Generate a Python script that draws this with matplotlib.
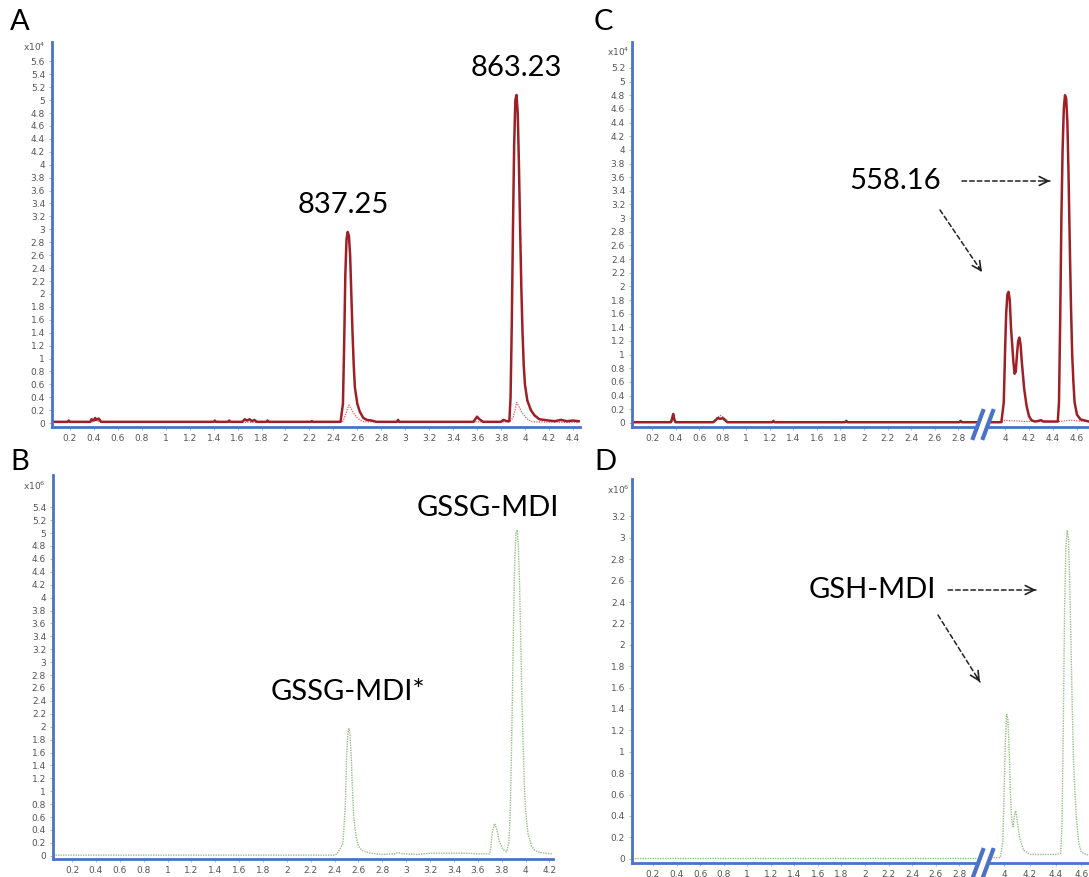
import numpy as np
import matplotlib
matplotlib.use("Agg")
import matplotlib.pyplot as plt
from matplotlib.patches import FancyArrowPatch
from matplotlib.transforms import IdentityTransform

W, H = 1089, 877

# traces: (retention time, intensity)
# panel A, x10^4
a_main = [(0.05, 0.02), (0.18, 0.02), (0.19, 0.04), (0.20, 0.02), (0.37, 0.02), (0.38, 0.06),
          (0.40, 0.04), (0.41, 0.08), (0.42, 0.05), (0.44, 0.07), (0.46, 0.02), (1.40, 0.02),
          (1.41, 0.04), (1.42, 0.02), (1.52, 0.02), (1.53, 0.04), (1.54, 0.02), (1.64, 0.02),
          (1.66, 0.06), (1.68, 0.04), (1.70, 0.06), (1.72, 0.03), (1.74, 0.05), (1.76, 0.02),
          (1.84, 0.02), (1.85, 0.04), (1.86, 0.02), (2.21, 0.02), (2.22, 0.03), (2.23, 0.02),
          (2.46, 0.02), (2.48, 0.3), (2.49, 1.2), (2.50, 2.3), (2.51, 2.85), (2.52, 2.96),
          (2.53, 2.9), (2.54, 2.6), (2.55, 2.0), (2.56, 1.4), (2.57, 0.9), (2.58, 0.55),
          (2.60, 0.3), (2.62, 0.18), (2.65, 0.08), (2.68, 0.05), (2.72, 0.04), (2.76, 0.02),
          (2.93, 0.02), (2.94, 0.05), (2.95, 0.02), (3.57, 0.02), (3.60, 0.1), (3.62, 0.06),
          (3.65, 0.02), (3.80, 0.02), (3.82, 0.05), (3.85, 0.03), (3.87, 0.03), (3.88, 0.4),
          (3.89, 1.5), (3.90, 3.0), (3.91, 4.3), (3.92, 5.0), (3.93, 5.08), (3.94, 4.8),
          (3.95, 4.0), (3.96, 3.0), (3.97, 2.1), (3.98, 1.4), (3.99, 0.9), (4.00, 0.6),
          (4.02, 0.35), (4.05, 0.2), (4.08, 0.12), (4.12, 0.06), (4.20, 0.04), (4.25, 0.03),
          (4.30, 0.05), (4.35, 0.03), (4.40, 0.04), (4.45, 0.03)]
a_minor = [(0.05, 0.01), (0.38, 0.01), (0.40, 0.04), (0.42, 0.06), (0.44, 0.02), (2.45, 0.01),
           (2.48, 0.03), (2.50, 0.12), (2.52, 0.24), (2.53, 0.28), (2.55, 0.22), (2.57, 0.15),
           (2.60, 0.08), (2.63, 0.04), (2.66, 0.02), (3.87, 0.02), (3.90, 0.08), (3.92, 0.22),
           (3.93, 0.32), (3.95, 0.26), (3.97, 0.18), (4.00, 0.1), (4.03, 0.05), (4.06, 0.02),
           (4.45, 0.01)]

# panel B, x10^6
b_trace = [(0.04, 0.01), (2.40, 0.01), (2.42, 0.03), (2.45, 0.12), (2.47, 0.2), (2.49, 0.8),
           (2.50, 1.5), (2.51, 1.9), (2.52, 1.97), (2.53, 1.85), (2.54, 1.5), (2.55, 1.0),
           (2.56, 0.6), (2.58, 0.3), (2.60, 0.15), (2.63, 0.08), (2.70, 0.04), (2.80, 0.02),
           (2.90, 0.03), (2.93, 0.05), (2.97, 0.03), (3.10, 0.02), (3.20, 0.04), (3.50, 0.04),
           (3.60, 0.03), (3.70, 0.03), (3.71, 0.15), (3.72, 0.35), (3.74, 0.5), (3.76, 0.4),
           (3.78, 0.22), (3.81, 0.1), (3.84, 0.06), (3.86, 0.2), (3.87, 0.6), (3.88, 1.4),
           (3.89, 2.5), (3.90, 3.7), (3.91, 4.6), (3.92, 5.0), (3.93, 5.05), (3.94, 4.8),
           (3.95, 4.2), (3.96, 3.3), (3.97, 2.4), (3.98, 1.7), (3.99, 1.1), (4.00, 0.7),
           (4.02, 0.35), (4.05, 0.15), (4.08, 0.08), (4.12, 0.05), (4.22, 0.03)]

# panel C, x10^4 (left of the axis break / right of it)
c_main_left = [(0.03, 0.01), (0.36, 0.01), (0.37, 0.06), (0.38, 0.13), (0.39, 0.05), (0.40, 0.01),
               (0.72, 0.01), (0.74, 0.04), (0.76, 0.07), (0.78, 0.06), (0.80, 0.07), (0.82, 0.04),
               (0.84, 0.01), (1.22, 0.01), (1.23, 0.03), (1.24, 0.01), (1.84, 0.01), (1.85, 0.03),
               (1.86, 0.01), (2.81, 0.01), (2.82, 0.03), (2.83, 0.01), (2.96, 0.01)]
c_minor_left = [(0.03, 0.01), (0.36, 0.01), (0.38, 0.04), (0.40, 0.01), (0.72, 0.01), (0.75, 0.08),
                (0.78, 0.11), (0.81, 0.08), (0.85, 0.01), (2.96, 0.01)]
c_main_right = [(3.87, 0.01), (3.97, 0.01), (3.99, 0.3), (4.00, 1.0), (4.01, 1.6), (4.02, 1.88),
                (4.03, 1.92), (4.04, 1.8), (4.05, 1.4), (4.07, 0.9), (4.08, 0.72), (4.09, 0.75),
                (4.10, 1.0), (4.11, 1.2), (4.12, 1.25), (4.13, 1.15), (4.14, 0.9), (4.16, 0.5),
                (4.18, 0.25), (4.20, 0.1), (4.22, 0.04), (4.25, 0.02), (4.28, 0.03), (4.30, 0.04),
                (4.32, 0.02), (4.44, 0.02), (4.45, 0.3), (4.46, 1.5), (4.47, 3.0), (4.48, 4.0),
                (4.49, 4.6), (4.50, 4.8), (4.51, 4.75), (4.52, 4.4), (4.53, 3.6), (4.54, 2.6),
                (4.55, 1.7), (4.56, 1.0), (4.57, 0.6), (4.58, 0.3), (4.60, 0.12), (4.63, 0.05),
                (4.70, 0.02)]
c_minor_right = [(3.87, 0.01), (3.97, 0.01), (4.00, 0.04), (4.05, 0.03), (4.10, 0.03), (4.15, 0.02),
                 (4.45, 0.02), (4.50, 0.03), (4.55, 0.04), (4.60, 0.03), (4.70, 0.02)]

# panel D, x10^6
d_left = [(0.02, 0.01), (2.95, 0.01)]
d_right = [(3.88, 0.01), (3.97, 0.01), (3.99, 0.15), (4.00, 0.6), (4.01, 1.1), (4.02, 1.35),
           (4.03, 1.3), (4.04, 1.0), (4.05, 0.6), (4.06, 0.35), (4.07, 0.3), (4.08, 0.4),
           (4.09, 0.45), (4.10, 0.38), (4.12, 0.2), (4.15, 0.08), (4.20, 0.04), (4.30, 0.04),
           (4.40, 0.04), (4.44, 0.05), (4.45, 0.3), (4.46, 1.2), (4.47, 2.3), (4.48, 2.9),
           (4.49, 3.07), (4.50, 3.0), (4.51, 2.6), (4.52, 2.0), (4.53, 1.4), (4.54, 0.9),
           (4.56, 0.4), (4.58, 0.15), (4.60, 0.06), (4.66, 0.03)]

ticks_a = [0.2, 0.4, 0.6, 0.8, 1, 1.2, 1.4, 1.6, 1.8, 2, 2.2, 2.4, 2.6, 2.8, 3, 3.2, 3.4, 3.6, 3.8, 4, 4.2, 4.4]
ticks_b = ticks_a[:-1]
ticks_left = ticks_a[:14]
ticks_right = [4, 4.2, 4.4, 4.6]

RED = "#9e1f26"
RED2 = "#e0575c"
GREEN = "#93c083"
BLUE = "#4a72c6"
TXT = "#555555"


def ax_px(left, right, top, bottom):
    return fig.add_axes([left / W, 1 - bottom / H, (right - left) / W, (bottom - top) / H])


def style(ax, xlim, ylim, xt, ytop, yaxis=True):
    ax.set_xlim(*xlim)
    ax.set_ylim(*ylim)
    for s in ["top", "right"]:
        ax.spines[s].set_visible(False)
    for s in ["left", "bottom"]:
        ax.spines[s].set_color(BLUE)
        ax.spines[s].set_linewidth(2)
    ax.set_xticks(xt)
    ax.set_xticklabels(["%g" % v for v in xt])
    if yaxis:
        yt = np.round(np.arange(0, ytop + 0.001, 0.2), 1)
        ax.set_yticks(yt)
        ax.set_yticklabels(["%g" % v for v in yt])
    else:
        ax.spines["left"].set_visible(False)
        ax.set_yticks([])
    ax.tick_params(labelsize=6.5, labelcolor=TXT, length=2, width=0.5, color="#999999", pad=3)


def trace(ax, pts, **kw):
    t, v = zip(*pts)
    ax.plot(t, v, **kw)


fig = plt.figure(figsize=(W / 100, H / 100), dpi=100)

# A
axA = ax_px(52, 580, 42, 427)
trace(axA, a_minor, color=RED2, lw=0.9, ls=(0, (1, 1)))
trace(axA, a_main, color=RED, lw=1.8)
style(axA, (0.05, 4.46), (-0.06, 5.9), ticks_a, 5.6)

# B
axB = ax_px(53, 553, 475, 859)
trace(axB, b_trace, color=GREEN, lw=1.0, ls=(0, (1, 0.8)))
style(axB, (0.04, 4.23), (-0.05, 5.9), ticks_b, 5.4)

# C
axC1 = ax_px(632, 977, 42, 427)
axC2 = ax_px(989, 1089, 42, 427)
for ax, mn, mj in [(axC1, c_minor_left, c_main_left), (axC2, c_minor_right, c_main_right)]:
    trace(ax, mn, color=RED2, lw=0.9, ls=(0, (1, 1)))
    trace(ax, mj, color=RED, lw=1.8)
style(axC1, (0.03, 2.96), (-0.06, 5.58), ticks_left, 5.2)
style(axC2, (3.867, 4.70), (-0.06, 5.58), ticks_right, 5.2, yaxis=False)

# D
axD1 = ax_px(632, 977, 479, 863)
axD2 = ax_px(989, 1089, 479, 863)
trace(axD1, d_left, color=GREEN, lw=1.0, ls=(0, (1, 0.8)))
trace(axD2, d_right, color=GREEN, lw=1.0, ls=(0, (1, 0.8)))
style(axD1, (0.022, 2.95), (-0.04, 3.55), ticks_left, 3.2)
style(axD2, (3.883, 4.66), (-0.04, 3.55), ticks_right, 3.2, yaxis=False)

# axis-break marks
for y0 in [438, 877]:
    for dx in [0, 10]:
        fig.add_artist(plt.Line2D([(973 + dx) / W, (983 + dx) / W],
                                  [1 - y0 / H, 1 - (y0 - 27) / H], color=BLUE, lw=3))

# multiplier labels
for x, y, e in [(46, 47, 4), (630, 52, 4), (46, 486, 6), (630, 490, 6)]:
    fig.text(x / W, 1 - y / H, "x10$^{%d}$" % e, fontsize=6.5, color=TXT, ha="right", va="center")

# panel letters
for x, y, s in [(10, 22, "A"), (594, 22, "C"), (10, 462, "B"), (594, 462, "D")]:
    fig.text(x / W, 1 - y / H, s, fontsize=21, family="Lato", va="center")

# peak labels
LBL = dict(fontsize=21, family="Lato", ha="center", va="center")
fig.text(343 / W, 1 - 205 / H, "837.25", **LBL)
fig.text(516 / W, 1 - 68 / H, "863.23", **LBL)
fig.text(348 / W, 1 - 692 / H, "GSSG-MDI*", **LBL)
fig.text(488 / W, 1 - 508 / H, "GSSG-MDI", **LBL)
fig.text(895 / W, 1 - 181 / H, "558.16", **LBL)
fig.text(872 / W, 1 - 590 / H, "GSH-MDI", **LBL)


def dashed_arrow(x0, y0, x1, y1):
    p0 = np.array([x0, H - y0], float)
    p1 = np.array([x1, H - y1], float)
    d = p1 - p0
    pb = p1 - d / np.hypot(*d) * 6
    fig.add_artist(FancyArrowPatch(tuple(p0), tuple(p1), arrowstyle="-", color="#222222",
                                   lw=1.1, linestyle=(0, (3, 2)), shrinkA=0, shrinkB=0,
                                   transform=IdentityTransform()))
    fig.add_artist(FancyArrowPatch(tuple(pb), tuple(p1), arrowstyle="->", color="#222222",
                                   lw=1.2, mutation_scale=16, shrinkA=0, shrinkB=0,
                                   transform=IdentityTransform()))


dashed_arrow(962, 181, 1050, 181)
dashed_arrow(940, 210, 982, 272)
dashed_arrow(948, 590, 1036, 590)
dashed_arrow(938, 615, 980, 682)

fig.savefig("out.png", dpi=100)
